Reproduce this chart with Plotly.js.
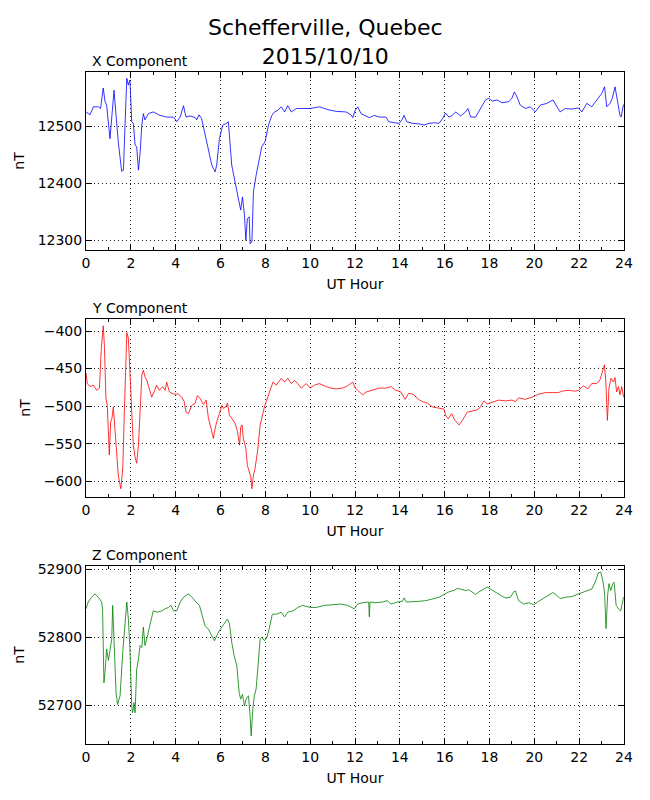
<!DOCTYPE html>
<html>
<head>
<meta charset="utf-8">
<script src="https://cdn.plot.ly/plotly-3.0.1.min.js"></script>
<style>
  html, body { margin: 0; padding: 0; background: #fff; }
  #chart { width: 650px; height: 800px; }
</style>
</head>
<body>
<div id="chart"></div>
<script>
// station / date
const station = 'Schefferville, Quebec';
const dateStr = '2015/10/10';
const panelTitles = ['X Component', 'Y Component', 'Z Component'];

// X component (nT)
const hoursX = [0,0.18,0.33,0.55,0.65,0.77,0.85,0.92,1.07,1.15,1.25,1.34,1.44,1.59,1.67,1.74,1.82,1.89,1.96,2.04,
  2.11,2.19,2.26,2.34,2.41,2.49,2.56,2.63,2.78,3.0,3.3,3.6,3.9,4.05,4.2,4.35,4.46,4.64,4.87,4.94,
  5.04,5.16,5.31,5.46,5.61,5.68,5.76,5.83,5.95,6.1,6.28,6.35,6.5,6.65,6.8,6.9,6.98,7.07,7.13,7.2,
  7.28,7.32,7.4,7.47,7.59,7.7,7.84,7.99,8.14,8.29,
  8.41,8.56,8.71,8.86,9.0,9.16,9.38,9.67,10.0,10.41,10.79,11.16,11.6,11.82,11.9,12.01,12.12,12.27,12.49,12.64,
  12.86,13.08,13.38,13.5,13.75,13.97,14.09,14.19,14.3,14.56,14.86,15.08,15.3,15.53,15.75,15.9,16.04,16.19,16.34,16.49,
  16.71,16.93,17.04,17.16,17.38,17.6,17.82,17.97,18.12,18.34,18.56,18.86,19.0,19.11,19.23,19.37,19.6,19.82,20.04,20.27,
  20.56,20.83,21.0,21.15,21.38,21.67,21.97,22.12,22.34,22.56,22.79,23.0,23.13,23.23,23.38,23.48,23.6,23.72,23.82,23.87,23.98];
const valuesX = [12525,12520,12534,12534,12531,12567,12543,12537,12478,12513,12563,12519,12473,12421,12423,12502,12584,12572,12581,12508,
  12505,12467,12464,12423,12452,12502,12522,12511,12522,12525,12519,12516,12516,12508,12516,12536,12516,12518,12515,12511,
  12520,12513,12487,12455,12432,12426,12420,12432,12478,12502,12505,12508,12432,12402,12373,12353,12376,12344,12300,12338,
  12341,12294,12297,12385,12414,12437,12464,12473,12502,12519,
  12525,12528,12534,12525,12536,12525,12531,12531,12531,12534,12529,12526,12525,12520,12515,12528,12534,12522,12518,12515,
  12519,12516,12516,12508,12506,12505,12511,12519,12508,12505,12504,12502,12505,12506,12505,12513,12523,12516,12519,12525,
  12518,12525,12531,12516,12516,12531,12546,12549,12544,12546,12541,12543,12549,12560,12551,12537,12531,12534,12525,12537,
  12540,12546,12534,12525,12531,12530,12532,12525,12540,12534,12546,12557,12569,12534,12540,12549,12569,12537,12519,12516,12538];

// Y component (nT)
const hoursY = [0,0.06,0.18,0.33,0.48,0.6,0.68,0.77,0.82,0.89,0.95,1.04,1.1,1.16,1.22,1.29,1.37,1.44,1.55,1.64,
  1.71,1.77,1.82,1.89,1.96,2.04,2.11,2.19,2.26,2.34,2.41,2.49,2.56,2.63,2.71,2.83,2.93,3.04,3.15,3.27,
  3.42,3.53,3.6,3.72,3.9,4.12,4.27,4.38,4.46,4.57,4.72,4.87,4.97,5.09,5.24,5.36,5.46,5.58,5.68,5.76,
  5.83,5.95,6.06,6.13,6.24,6.31,6.4,6.5,6.65,6.76,6.85,6.9,6.96,7.02,7.13,7.2,7.29,7.35,7.4,7.47,
  7.54,7.65,7.77,7.89,7.96,8.04,8.14,
  8.34,8.49,8.71,8.86,9.0,9.16,9.3,9.45,9.6,9.82,10.0,10.19,10.41,10.71,10.93,11.16,11.45,11.67,11.9,12.01,
  12.19,12.34,12.52,12.79,13.08,13.38,13.6,13.82,14.04,14.24,14.39,14.59,14.83,15.0,15.23,15.45,15.75,15.97,16.04,16.16,
  16.31,16.46,16.64,16.79,17.01,17.23,17.45,17.6,17.75,17.9,18.12,18.41,18.71,19.0,19.15,19.3,19.6,19.9,20.19,20.49,
  20.79,21.08,21.23,21.53,21.82,21.97,22.19,22.39,22.56,22.79,22.93,23.05,23.13,23.19,23.26,23.33,23.42,23.53,23.6,23.67,
  23.75,23.82,23.9,23.98];
const valuesY = [-456,-470,-474,-472,-479,-476,-425,-393,-419,-490,-499,-565,-521,-516,-501,-530,-561,-592,-610,-583,
  -508,-441,-402,-410,-463,-521,-552,-568,-576,-552,-499,-459,-452,-461,-465,-476,-488,-481,-472,-479,
  -474,-479,-468,-481,-484,-484,-488,-494,-508,-510,-499,-496,-486,-490,-498,-492,-516,-530,-543,-530,
  -521,-510,-499,-503,-501,-496,-512,-516,-523,-534,-552,-528,-525,-543,-556,-579,-588,-594,-610,-592,
  -583,-561,-525,-508,-501,-494,-485,
  -468,-472,-463,-468,-463,-470,-466,-470,-476,-470,-476,-472,-470,-474,-476,-477,-476,-473,-468,-476,
  -481,-485,-481,-479,-476,-476,-474,-479,-481,-491,-483,-484,-491,-494,-496,-501,-503,-504,-512,-517,
  -510,-519,-525,-519,-508,-507,-505,-501,-493,-497,-495,-492,-493,-492,-494,-489,-491,-488,-484,-482,
  -482,-482,-480,-479,-480,-479,-473,-477,-470,-470,-465,-454,-445,-468,-519,-476,-463,-468,-462,-481,
  -474,-485,-474,-488];

// Z component (nT)
const hoursZ = [0,0.1,0.25,0.4,0.55,0.7,0.74,0.8,0.86,0.92,1.0,1.07,1.15,1.19,1.25,1.34,1.41,1.52,1.64,1.71,
  1.82,1.89,1.96,2.04,2.08,2.14,2.19,2.26,2.34,2.41,2.49,2.56,2.63,2.71,2.86,3.0,3.18,3.38,3.53,3.68,
  3.79,3.9,4.05,4.2,4.35,4.46,4.57,4.64,4.76,4.91,5.06,5.16,5.31,5.46,5.61,5.73,5.83,5.95,6.1,6.21,
  6.31,6.4,6.5,6.61,6.73,6.83,6.9,6.98,7.07,7.14,7.25,7.32,7.37,7.44,7.51,7.59,7.66,7.77,7.84,7.96,
  8.07,8.17,
  8.31,8.49,8.71,8.86,9.0,9.23,9.45,9.67,10.0,10.27,10.64,11.01,11.38,11.67,11.82,11.97,12.12,12.34,12.61,12.64,
  12.67,12.93,13.23,13.45,13.6,13.9,14.12,14.19,14.3,14.56,14.86,15.16,15.45,15.75,15.97,16.19,16.41,16.56,16.71,16.93,
  17.08,17.23,17.38,17.53,17.75,17.9,18.04,18.27,18.49,18.71,18.93,19.08,19.16,19.3,19.53,19.75,19.97,20.19,20.49,20.83,
  21.0,21.15,21.38,21.67,21.97,22.27,22.56,22.71,22.86,22.96,23.05,23.13,23.2,23.27,23.33,23.41,23.5,23.56,23.65,23.75,
  23.85,23.98];
const valuesZ = [52842,52852,52859,52864,52859,52852,52842,52733,52753,52783,52766,52783,52798,52847,52783,52719,52701,52714,52778,52812,
  52852,52827,52783,52699,52689,52704,52689,52753,52768,52788,52785,52815,52788,52798,52822,52839,52837,52839,52842,52844,
  52847,52839,52839,52852,52859,52862,52864,52862,52857,52852,52847,52834,52817,52812,52802,52795,52802,52810,52817,52822,
  52827,52820,52793,52773,52758,52719,52709,52716,52699,52709,52714,52684,52655,52694,52714,52724,52753,52798,52800,52795,
  52800,52812,
  52834,52834,52837,52830,52837,52839,52844,52847,52844,52844,52847,52848,52849,52847,52844,52842,52849,52851,52852,52830,
  52852,52851,52852,52854,52849,52852,52853,52858,52852,52852,52853,52854,52857,52859,52863,52867,52869,52872,52871,52869,
  52870,52867,52863,52867,52871,52874,52871,52867,52862,52858,52859,52867,52868,52854,52849,52851,52848,52853,52859,52866,
  52862,52857,52859,52860,52864,52867,52871,52881,52895,52896,52884,52867,52813,52862,52879,52869,52879,52881,52847,52842,
  52839,52859];

const FONT = 'DejaVu Sans, sans-serif';
const H = 800;
// plot boxes in page pixels (top, bottom)
const boxes = [[72, 250], [319, 497], [566, 744]];
const dom = b => [1 - b[1] / H, 1 - b[0] / H];

const colors = ['#0000ff', '#ff0000', '#008000'];
const series = [[hoursX, valuesX], [hoursY, valuesY], [hoursZ, valuesZ]];
const yRanges = [[12283, 12595], [-621, -384], [52643, 52905]];
const yDticks = [100, 50, 100];
const yFormats = ['d', '', 'd'];

const data = series.map((s, i) => ({
  type: 'scatter',
  mode: 'lines',
  x: s[0],
  y: s[1],
  xaxis: i ? 'x' + (i + 1) : 'x',
  yaxis: i ? 'y' + (i + 1) : 'y',
  line: { color: colors[i], width: 0.8 },
  hoverinfo: 'x+y',
  showlegend: false
}));

const axBase = {
  showline: true, mirror: 'ticks', linecolor: '#000', linewidth: 1,
  ticks: 'inside', ticklen: 6, tickcolor: '#000', tickwidth: 1,
  showgrid: true, gridcolor: '#222', gridwidth: 1, griddash: '1px,3px',
  zeroline: false,
  tickfont: { family: FONT, size: 14, color: '#000' }
};

const layout = {
  width: 650, height: 800,
  margin: { l: 86, r: 26, t: 0, b: 0 },
  paper_bgcolor: '#fff', plot_bgcolor: '#fff',
  font: { family: FONT, color: '#000' },
  annotations: [{
    text: station + '<br>' + dateStr,
    xref: 'paper', yref: 'paper',
    x: (325 - 86) / 538, y: 1 - 13 / H, xanchor: 'center', yanchor: 'top',
    showarrow: false,
    font: { family: FONT, size: 22, color: '#000' }
  }]
};

boxes.forEach((b, i) => {
  const xk = i ? 'xaxis' + (i + 1) : 'xaxis';
  const yk = i ? 'yaxis' + (i + 1) : 'yaxis';
  layout[xk] = Object.assign({}, axBase, {
    domain: [0, 1], anchor: i ? 'y' + (i + 1) : 'y',
    range: [0, 24], dtick: 2, tick0: 0,
    minor: { dtick: 1, ticks: 'inside', ticklen: 3, tickcolor: '#000', showgrid: false },
    title: { text: 'UT Hour', font: { family: FONT, size: 14, color: '#000' }, standoff: 9 }
  });
  layout[yk] = Object.assign({}, axBase, {
    domain: dom(b), anchor: i ? 'x' + (i + 1) : 'x',
    range: yRanges[i], dtick: yDticks[i], tickformat: yFormats[i],
    title: { text: 'nT', font: { family: FONT, size: 14, color: '#000' }, standoff: 9 }
  });
  layout.annotations.push({
    text: panelTitles[i], xref: 'paper', yref: 'paper',
    x: 0, y: dom(b)[1], xanchor: 'left', yanchor: 'bottom',
    xshift: 4, yshift: 1, showarrow: false,
    font: { family: FONT, size: 14, color: '#000' }
  });
});

Plotly.newPlot('chart', data, layout, { displayModeBar: false, staticPlot: true });
</script>
</body>
</html>
